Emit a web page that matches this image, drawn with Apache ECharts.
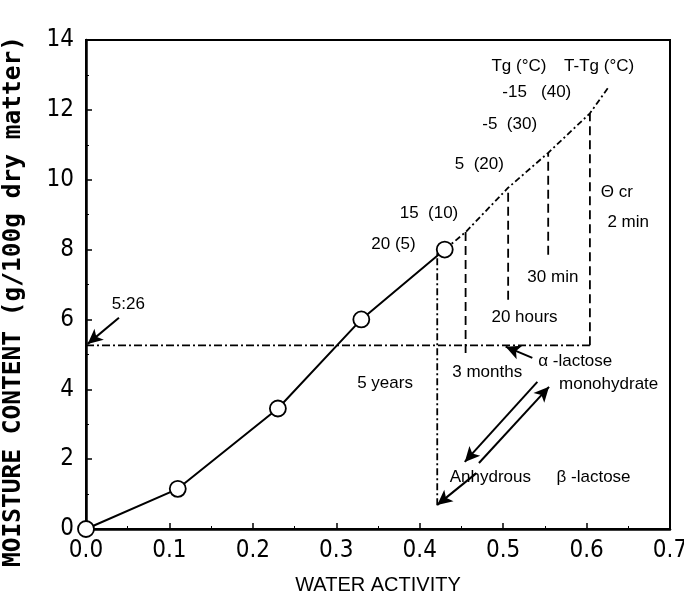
<!DOCTYPE html>
<html>
<head>
<meta charset="utf-8">
<script src="https://cdn.jsdelivr.net/npm/echarts@6/dist/echarts.min.js"></script>
<style>
  html, body { margin: 0; background: #fff; }
  #main { width: 684px; height: 606px; }
</style>
</head>
<body>
<div id="main"></div>
<script>
// sorption isotherm (water activity vs moisture)
var awData = [0, 0.11, 0.23, 0.33, 0.43];
var moisture = [0, 1.15, 3.45, 6.0, 8.0];

// extrapolated isotherm (Tg line), dash-dot
var tgLineX = [0.43, 0.455, 0.506, 0.554, 0.604, 0.626];
var tgLineY = [8.0, 8.5, 9.77, 10.77, 11.9, 12.64];

// critical moisture 5.26
var critLevel = 5.26;
var critEndX = 0.604;

// vertical dashed lines (crystallization times)
var dropX = [0.455, 0.506, 0.554, 0.604];
var dropTop = [8.5, 9.77, 10.77, 11.9];
var dropBottom = [5.04, 6.56, 7.85, 5.26];

// dash-dot drop from last point
var yearsX = 0.421;
var yearsTop = 8.0;
var yearsBottom = 0.68;

// arrows: [x1, y1, x2, y2], head at the second point
var arrows = [
  [0.0395, 6.05, 0.002, 5.3],
  [0.535, 4.9, 0.503, 5.22],
  [0.541, 4.21, 0.454, 1.92],
  [0.471, 1.89, 0.555, 4.07],
  [0.468, 1.6, 0.421, 0.69]
];

// annotations
var noteText = ['Tg (°C)', 'T-Tg (°C)', '-15   (40)', '-5  (30)', '5  (20)', '15  (10)', '20 (5)',
  'Θ cr', '2 min', '30 min', '20 hours', '3 months', '5 years',
  'α -lactose', 'monohydrate', 'Anhydrous', 'β -lactose', '5:26'];
var noteX = [0.486, 0.573, 0.499, 0.475, 0.442, 0.376, 0.342,
  0.617, 0.625, 0.529, 0.486, 0.439, 0.325,
  0.542, 0.567, 0.436, 0.564, 0.031];
var noteY = [13.24, 13.24, 12.49, 11.58, 10.43, 9.05, 8.14,
  9.63, 8.77, 7.22, 6.05, 4.5, 4.18,
  4.79, 4.13, 1.49, 1.49, 6.42];

var ink = '#000';
var tickFont = 'Liberation Sans Narrow, DejaVu Sans Condensed, sans-serif';

function zip(xs, ys) {
  return xs.map(function (x, i) { return [x, ys[i]]; });
}

function segment(data, dash) {
  return {
    type: 'line',
    data: data,
    symbol: 'none',
    silent: true,
    animation: false,
    z: 1,
    lineStyle: { color: ink, width: 1.8, type: dash }
  };
}

var series = [];

// horizontal critical line
series.push(segment([[0, critLevel], [critEndX, critLevel]], [8, 3, 2, 3]));
// Tg line
series.push(segment(zip(tgLineX, tgLineY), [6, 3, 2, 3]));
// vertical drops
dropX.forEach(function (x, i) {
  series.push(segment([[x, dropBottom[i]], [x, dropTop[i]]], [9, 5]));
});
series.push(segment([[yearsX, yearsBottom], [yearsX, yearsTop]], [7, 3, 2, 3]));

// arrows
series.push({
  type: 'line',
  data: [],
  silent: true,
  animation: false,
  markLine: {
    silent: true,
    animation: false,
    symbol: ['none', 'arrow'],
    symbolSize: [11, 15],
    label: { show: false },
    lineStyle: { color: ink, width: 2, type: 'solid' },
    data: arrows.map(function (a) {
      return [{ coord: [a[0], a[1]] }, { coord: [a[2], a[3]] }];
    })
  }
});

// isotherm with open circles
series.push({
  type: 'line',
  data: zip(awData, moisture),
  symbol: 'circle',
  symbolSize: 16,
  animation: false,
  z: 5,
  lineStyle: { color: ink, width: 2 },
  itemStyle: { color: '#fff', borderColor: ink, borderWidth: 1.8 }
});

// text notes
series.push({
  type: 'scatter',
  symbolSize: 0,
  silent: true,
  animation: false,
  z: 6,
  data: noteX.map(function (x, i) { return [x, noteY[i], noteText[i]]; }),
  itemStyle: { opacity: 1 },
  label: {
    show: true,
    position: 'right',
    distance: 0,
    color: '#000',
    opacity: 1,
    fontFamily: 'Liberation Sans, sans-serif',
    fontSize: 17,
    formatter: function (p) { return p.data[2]; }
  }
});

var chart = echarts.init(document.getElementById('main'), null, { renderer: 'canvas' });
chart.setOption({
  backgroundColor: '#fff',
  grid: {
    left: 86, right: 14, top: 40, bottom: 77,
    containLabel: false,
    outerBoundsMode: 'none',
    show: true,
    borderColor: ink,
    borderWidth: 2
  },
  xAxis: {
    type: 'value',
    min: 0, max: 0.7, interval: 0.1,
    name: 'WATER ACTIVITY',
    nameLocation: 'middle',
    nameGap: 46,
    nameTextStyle: { color: ink, fontSize: 20, fontFamily: 'Liberation Sans, sans-serif' },
    axisLine: { lineStyle: { color: ink, width: 2.5 } },
    axisTick: { inside: true, length: 6, lineStyle: { color: ink, width: 1.5 } },
    minorTick: { show: true, splitNumber: 2, length: 3, lineStyle: { color: ink } },
    splitLine: { show: false },
    axisLabel: {
      color: ink, fontSize: 24, fontFamily: tickFont, margin: 10,
      formatter: function (v) { return v.toFixed(1); }
    }
  },
  yAxis: {
    type: 'value',
    min: 0, max: 14, interval: 2,
    name: 'MOISTURE CONTENT (g/100g dry matter)',
    nameLocation: 'middle',
    nameGap: 60,
    nameTextStyle: {
      color: ink, fontSize: 24.5, fontWeight: 'bold',
      fontFamily: 'DejaVu Sans Mono, monospace',
      padding: [0, 34, 0, 0]
    },
    axisLine: { lineStyle: { color: ink, width: 2.5 } },
    axisTick: { inside: true, length: 6, lineStyle: { color: ink, width: 1.5 } },
    minorTick: { show: true, splitNumber: 2, length: 3, lineStyle: { color: ink } },
    splitLine: { show: false },
    axisLabel: { color: ink, fontSize: 24, fontFamily: tickFont, margin: 12 }
  },
  series: series
});
</script>
</body>
</html>
